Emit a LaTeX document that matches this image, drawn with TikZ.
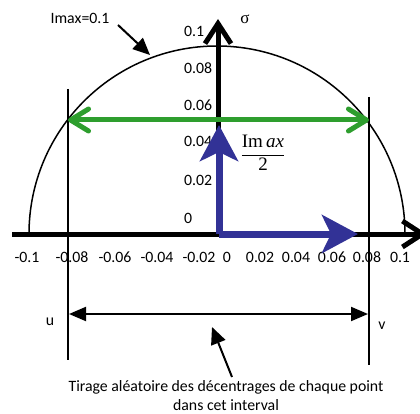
\documentclass[tikz,border=0pt]{standalone}
\usepackage{fontspec}
\setmainfont{Carlito}
\newfontfamily\tms{Liberation Serif}
\usetikzlibrary{arrows.meta}
\definecolor{grn}{RGB}{46,158,46}
\definecolor{blu}{RGB}{50,50,150}
\begin{document}
\begin{tikzpicture}[x=1pt,y=-1pt,
  lbl/.style={font=\fontsize{15.8}{17}\selectfont, inner sep=0pt},
  axisline/.style={line width=5pt, -{Straight Barb[length=20pt,width=26pt]}},
  thinline/.style={line width=1.4pt},
  grnarrow/.style={grn, line width=5pt, line cap=round, {Straight Barb[length=18pt,width=22pt,round]}-{Straight Barb[length=18pt,width=22pt,round]}},
  bluarrow/.style={blu, line width=7pt, line cap=square, -{Stealth[length=36pt,width=38pt,inset=9pt]}},
  blkarrow/.style={line width=2pt, -{Triangle[length=17pt,width=15pt]}},
  blkdouble/.style={line width=2pt, {Triangle[length=17pt,width=14pt]}-{Triangle[length=17pt,width=14pt]}}]
\useasboundingbox (0,0) rectangle (420,414);
% circle (upper half)
\draw[line width=1.5pt] (405,234) arc[start angle=0,end angle=180,radius=188pt];
% vertical interval lines
\coordinate (u1) at (68,89); \coordinate (u2) at (68,360);
\coordinate (v1) at (369,97); \coordinate (v2) at (369,365);
\draw[thinline] (u1) -- (u2);
\draw[thinline] (v1) -- (v2);
% axes
\coordinate (xl) at (12,234); \coordinate (xr) at (427,234);
\coordinate (o) at (218,236); \coordinate (yt) at (218,19);
\draw[axisline] (xl) -- (xr);
\draw[axisline] (o) -- (yt);
\node[font=\tms\fontsize{17}{18}\selectfont, inner sep=0pt] (sig) at (245,19) {σ};
% y tick labels
\foreach \v/\py [count=\i] in {0.1/31,0.08/68,0.06/105,0.04/141,0.02/180,0/218}
  \node[lbl, anchor=west] (yl\i) at (184,\py) {\v};
% x tick labels
\foreach \v/\px [count=\i] in {-0.1/27,-0.08/72,-0.06/115,-0.04/157,-0.02/199,0/227,0.02/260,0.04/296,0.06/332,0.08/367,0.1/400}
  \node[lbl] (xl\i) at (\px,257) {\v};
% green arrow
\coordinate (gl) at (68,120); \coordinate (gr) at (369,120);
\draw[grnarrow] (gl) -- (gr);
% blue arrows
\coordinate (bc) at (219,234); \coordinate (bt) at (219,125); \coordinate (br) at (358,234);
\draw[bluarrow] (bc) -- (bt);
\draw[bluarrow] (bc) -- (br);
% fraction
\node[font=\tms\fontsize{19}{20}\selectfont, inner sep=0pt] (frac) at (263,153) {$\displaystyle\frac{\hbox{Im\,\itshape ax}}{\hbox{2}}$};
% Imax label
\node[lbl] (imax) at (80,18) {Imax=0.1};
\coordinate (ia) at (118,25); \coordinate (ib) at (150,55);
\draw[blkarrow] (ia) -- (ib);
% interval arrow
\coordinate (ua) at (69,314); \coordinate (va) at (368,314);
\draw[blkdouble] (ua) -- (va);
\node[lbl] (u) at (50,322) {u};
\node[lbl] (v) at (382,326) {v};
% bottom text
\node[lbl, align=center, font=\fontsize{15.8}{19}\selectfont] (txt) at (226,396) {Tirage aléatoire des décentrages de chaque point\\dans cet interval};
\coordinate (ta) at (232,377); \coordinate (tb) at (212,327);
\draw[blkarrow] (ta) -- (tb);
\end{tikzpicture}
\end{document}
